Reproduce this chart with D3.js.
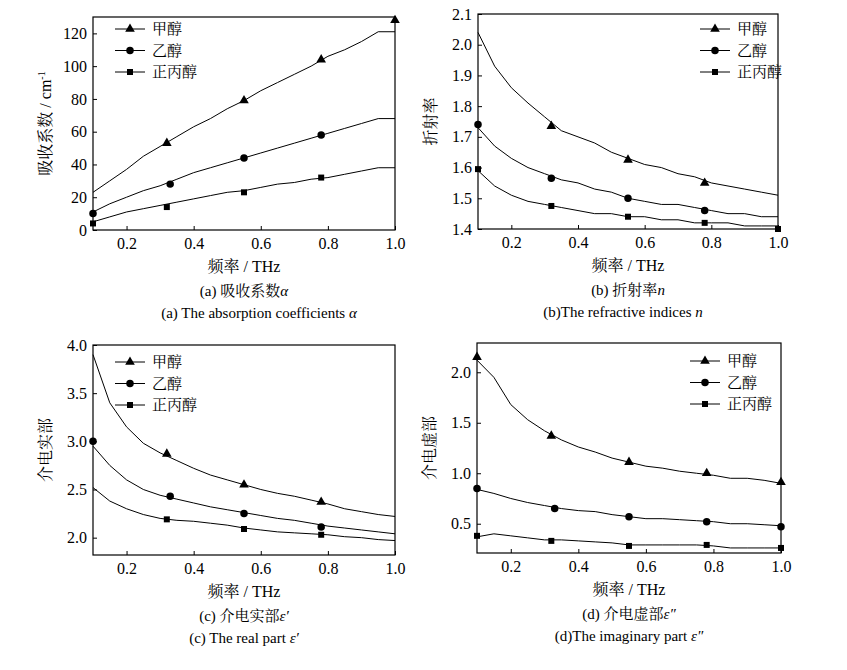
<!DOCTYPE html>
<html><head><meta charset="utf-8">
<script src="https://cdn.jsdelivr.net/npm/d3@7"></script>
<style>
body{margin:0;background:#fff}
svg text{font-family:"Liberation Serif","DejaVu Serif","Times New Roman","Noto Serif CJK SC","Noto Sans CJK SC",serif !important;fill:#000}
</style></head><body>
<svg id="chart" width="847" height="670"></svg>
<script>
// 频率网格 0.1 - 1.0 THz
const freq = d3.range(19).map(i => +(0.1 + i * 0.05).toFixed(2));
const names = ["甲醇", "乙醇", "正丙醇"];

// (a) 吸收系数
const alphaMe = [23,30,37,45,51,57,63,68,74,79,85,90,95,100,106,110,115,121,121];
const alphaEt = [11,16,20,24,27,31,35,38,41,44,47,50,53,56,59,62,65,68,68];
const alphaPr = [5,8,11,13,15,17,19,21,23,24,26,28,29,31,32,34,36,38,38];
const alphaMk = [[[0.32,53],[0.55,79],[0.78,104],[1.0,128]],
                 [[0.1,10],[0.33,28],[0.55,44],[0.78,58]],
                 [[0.1,4],[0.32,14],[0.55,23],[0.78,32]]];
// (b) 折射率
const nMe = [2.04,1.93,1.86,1.81,1.765,1.72,1.70,1.68,1.65,1.63,1.61,1.60,1.58,1.57,1.55,1.54,1.53,1.52,1.51];
const nEt = [1.73,1.67,1.63,1.60,1.58,1.56,1.55,1.53,1.52,1.50,1.49,1.48,1.48,1.47,1.46,1.45,1.45,1.44,1.44];
const nPr = [1.59,1.54,1.51,1.49,1.48,1.47,1.46,1.45,1.45,1.44,1.44,1.43,1.43,1.42,1.42,1.42,1.41,1.41,1.41];
const nMk = [[[0.32,1.735],[0.55,1.625],[0.78,1.55]],
             [[0.1,1.74],[0.32,1.565],[0.55,1.50],[0.78,1.46]],
             [[0.1,1.595],[0.32,1.475],[0.55,1.44],[0.78,1.42],[1.0,1.40]]];
// (c) 介电实部
const reMe = [3.9,3.4,3.15,2.98,2.88,2.8,2.72,2.65,2.6,2.55,2.5,2.46,2.43,2.39,2.35,2.3,2.27,2.24,2.22];
const reEt = [2.95,2.75,2.6,2.5,2.44,2.4,2.36,2.32,2.29,2.26,2.23,2.2,2.18,2.15,2.12,2.1,2.08,2.06,2.04];
const rePr = [2.52,2.38,2.3,2.24,2.2,2.18,2.17,2.15,2.13,2.1,2.08,2.06,2.05,2.04,2.03,2.01,2.0,1.98,1.97];
const reMk = [[[0.32,2.87],[0.55,2.55],[0.78,2.37]],
              [[0.1,3.0],[0.33,2.43],[0.55,2.25],[0.78,2.11]],
              [[0.32,2.19],[0.55,2.09],[0.78,2.03]]];
// (d) 介电虚部
const imMe = [2.12,1.95,1.68,1.53,1.42,1.33,1.26,1.21,1.15,1.11,1.07,1.05,1.02,1.0,0.98,0.95,0.95,0.93,0.9];
const imEt = [0.84,0.8,0.75,0.71,0.68,0.65,0.63,0.62,0.59,0.57,0.55,0.55,0.54,0.53,0.52,0.5,0.5,0.49,0.48];
const imPr = [0.37,0.4,0.38,0.36,0.34,0.34,0.33,0.32,0.31,0.29,0.29,0.29,0.29,0.29,0.28,0.26,0.26,0.26,0.26];
const imMk = [[[0.1,2.15],[0.32,1.37],[0.55,1.11],[0.78,1.0],[1.0,0.91]],
              [[0.1,0.85],[0.33,0.65],[0.55,0.57],[0.78,0.52],[1.0,0.47]],
              [[0.1,0.38],[0.32,0.33],[0.55,0.28],[0.78,0.29],[1.0,0.26]]];

const svg = d3.select("#chart");
const symbols = [d3.symbolTriangle, d3.symbolCircle, d3.symbolSquare];
const symSize = [40, 44, 36];

function panel(cfg) {
  const x = d3.scaleLinear().domain([0.1, 1.0]).range([cfg.x0, cfg.x1]);
  const y = d3.scaleLinear().domain(cfg.yDomain).range([cfg.y1, cfg.y0]);
  const g = svg.append("g");

  g.append("g").attr("transform", `translate(0,${cfg.y1})`)
    .call(d3.axisBottom(x).tickValues([0.2,0.4,0.6,0.8,1.0]).tickFormat(d3.format(".1f")).tickSizeInner(-4).tickSizeOuter(0).tickPadding(8))
    .call(a => a.select(".domain").remove())
    .attr("font-family", null);
  g.append("g").attr("transform", `translate(${cfg.x0},0)`)
    .call(d3.axisLeft(y).tickValues(cfg.ticks).tickFormat(cfg.fmt).tickSizeInner(-4).tickSizeOuter(0).tickPadding(6))
    .call(a => a.select(".domain").remove())
    .attr("font-family", null);
  g.selectAll(".tick text").attr("font-size", 16);
  g.selectAll(".tick line").attr("stroke", "#000");
  g.append("rect").attr("x", cfg.x0).attr("y", cfg.y0)
    .attr("width", cfg.x1 - cfg.x0).attr("height", cfg.y1 - cfg.y0)
    .attr("fill", "none").attr("stroke", "#000").attr("stroke-width", 1.2);

  const line = d3.line().x((d, i) => x(freq[i])).y(d => y(d));
  cfg.series.forEach((s, k) => {
    g.append("path").datum(s).attr("d", line)
      .attr("fill", "none").attr("stroke", "#000").attr("stroke-width", 1);
    g.selectAll(null).data(cfg.marks[k]).join("path")
      .attr("transform", d => `translate(${x(d[0])},${y(d[1])})`)
      .attr("d", d3.symbol(symbols[k], symSize[k]));
  });

  // 图例
  names.forEach((nm, k) => {
    const ly = cfg.leg[1] + k * 21.5;
    g.append("line").attr("x1", cfg.leg[0]).attr("x2", cfg.leg[0] + 30)
      .attr("y1", ly).attr("y2", ly).attr("stroke", "#000");
    g.append("path").attr("transform", `translate(${cfg.leg[0] + 15},${ly})`)
      .attr("d", d3.symbol(symbols[k], symSize[k]));
    g.append("text").attr("x", cfg.leg[0] + 37).attr("y", ly + 5)
      .attr("font-size", 15).text(nm);
  });

  const cx = (cfg.x0 + cfg.x1) / 2;
  g.append("text").attr("x", cx).attr("y", cfg.y1 + 42).attr("text-anchor", "middle")
    .attr("font-size", 16).text("频率 / THz");
  g.append("text").attr("x", cx).attr("y", cfg.y1 + 66).attr("text-anchor", "middle")
    .attr("font-size", 15).html(cfg.cap1);
  g.append("text").attr("x", cx + cfg.cap2dx).attr("y", cfg.y1 + 88).attr("text-anchor", "middle")
    .attr("font-size", 15).html(cfg.cap2);
  g.append("text").attr("transform", `translate(${cfg.x0 - 42},${(cfg.y0 + cfg.y1) / 2}) rotate(-90)`)
    .attr("text-anchor", "middle").attr("font-size", 16).html(cfg.ylab);
}

panel({x0: 93, x1: 395, y0: 17, y1: 230, yDomain: [0, 130], ticks: [0,20,40,60,80,100,120], fmt: d3.format("d"),
  series: [alphaMe, alphaEt, alphaPr], marks: alphaMk, leg: [115, 29],
  cap1: '(a) 吸收系数<tspan font-style="italic">α</tspan>', cap2: '(a) The absorption coefficients <tspan font-style="italic">α</tspan>', cap2dx: 15,
  ylab: '吸收系数 / cm<tspan dy="-6" font-size="10">-1</tspan>'});
panel({x0: 478, x1: 778, y0: 14, y1: 229, yDomain: [1.4, 2.1], ticks: [1.4,1.5,1.6,1.7,1.8,1.9,2.0,2.1], fmt: d3.format(".1f"),
  series: [nMe, nEt, nPr], marks: nMk, leg: [700, 29],
  cap1: '(b) 折射率<tspan font-style="italic">n</tspan>', cap2: '(b)The refractive indices <tspan font-style="italic">n</tspan>', cap2dx: -5,
  ylab: '折射率'});
panel({x0: 93, x1: 395, y0: 345, y1: 555, yDomain: [1.82, 4.0], ticks: [2.0,2.5,3.0,3.5,4.0], fmt: d3.format(".1f"),
  series: [reMe, reEt, rePr], marks: reMk, leg: [115, 362],
  cap1: '(c) 介电实部<tspan font-style="italic">ε′</tspan>', cap2: '(c) The real part <tspan font-style="italic">ε′</tspan>', cap2dx: 0,
  ylab: '介电实部'});
panel({x0: 477, x1: 781, y0: 343, y1: 553, yDomain: [0.21, 2.29], ticks: [0.5,1.0,1.5,2.0], fmt: d3.format(".1f"),
  series: [imMe, imEt, imPr], marks: imMk, leg: [690, 361],
  cap1: '(d) 介电虚部<tspan font-style="italic">ε″</tspan>', cap2: '(d)The imaginary part <tspan font-style="italic">ε″</tspan>', cap2dx: 0,
  ylab: '介电虚部'});
</script>
</body></html>
